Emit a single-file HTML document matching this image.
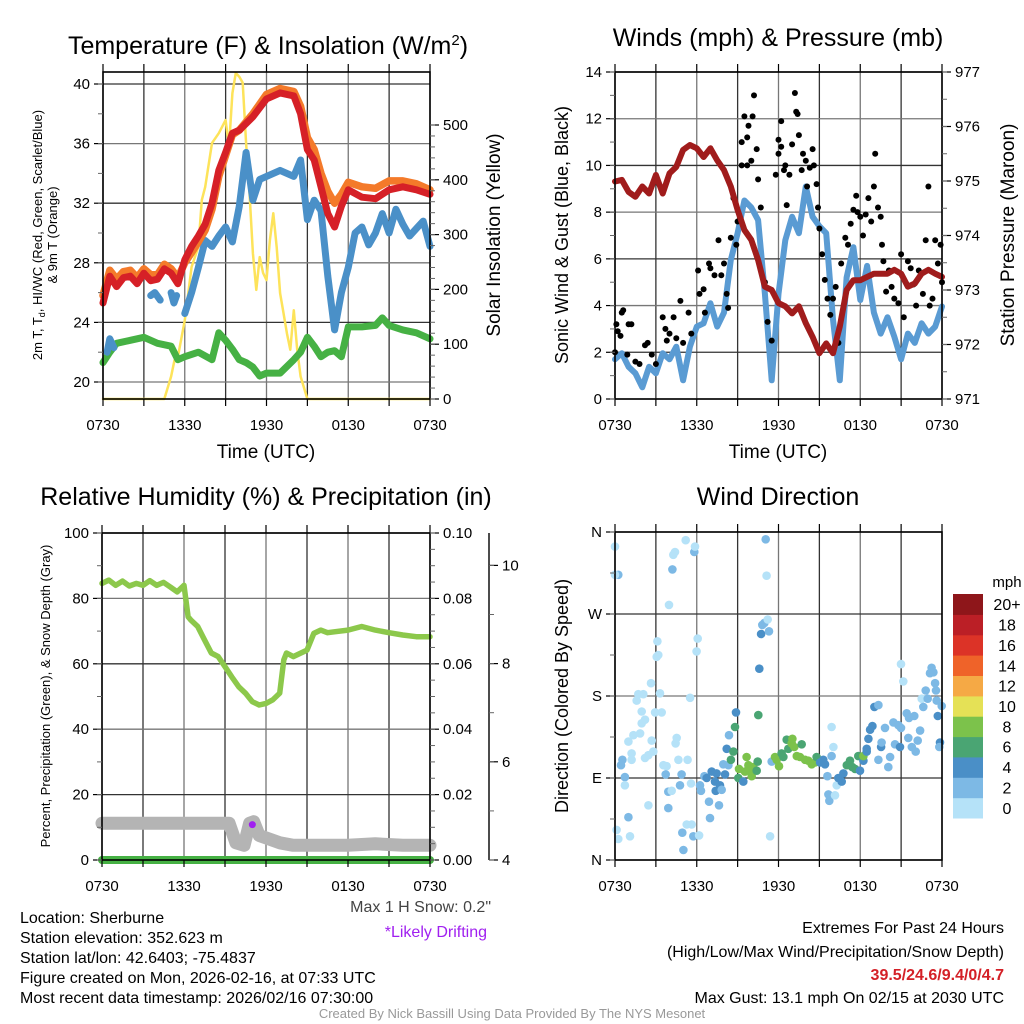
<!DOCTYPE html>
<html><head><meta charset="utf-8"><style>
html,body{margin:0;padding:0;background:#fff}
svg{display:block;font-family:"Liberation Sans",Arial,sans-serif}
</style></head><body>
<svg id="fig" width="1024" height="1024" viewBox="0 0 1024 1024" xmlns="http://www.w3.org/2000/svg">
<g id="grid"></g>
<g id="series"></g>
<g id="axes"></g>
<g id="texts" fill="#000">
<text x="268" y="54" font-size="25" text-anchor="middle">Temperature (F) &amp; Insolation (W/m<tspan dy="-9" font-size="15">2</tspan><tspan dy="9">)</tspan></text>
<text x="778" y="46" font-size="25" text-anchor="middle">Winds (mph) &amp; Pressure (mb)</text>
<text x="266" y="505" font-size="25" text-anchor="middle">Relative Humidity (%) &amp; Precipitation (in)</text>
<text x="778" y="505" font-size="25" text-anchor="middle">Wind Direction</text>
<text x="266" y="458" font-size="19" text-anchor="middle">Time (UTC)</text>
<text x="778" y="458" font-size="19" text-anchor="middle">Time (UTC)</text>
<text transform="translate(42,235) rotate(-90)" font-size="13" text-anchor="middle">2m T, T<tspan dy="3" font-size="9">d</tspan><tspan dy="-3">, HI/WC (Red, Green, Scarlet/Blue)</tspan></text>
<text transform="translate(57,235) rotate(-90)" font-size="13" text-anchor="middle">&amp; 9m T (Orange)</text>
<text transform="translate(500,235) rotate(-90)" font-size="19" text-anchor="middle">Solar Insolation (Yellow)</text>
<text transform="translate(568,235) rotate(-90)" font-size="18" text-anchor="middle">Sonic Wind &amp; Gust (Blue, Black)</text>
<text transform="translate(1014,235) rotate(-90)" font-size="19" text-anchor="middle">Station Pressure (Maroon)</text>
<text transform="translate(50,696) rotate(-90)" font-size="13" text-anchor="middle">Percent, Precipitation (Green), &amp; Snow Depth (Gray)</text>
<text transform="translate(568,696) rotate(-90)" font-size="18" text-anchor="middle">Direction (Colored By Speed)</text>
<text x="491" y="912" font-size="16" text-anchor="end" fill="#444">Max 1 H Snow: 0.2"</text>
<text x="487" y="937" font-size="16" text-anchor="end" fill="#a020f0">*Likely Drifting</text>
<g font-size="16">
<text x="20" y="923">Location: Sherburne</text>
<text x="20" y="943">Station elevation: 352.623 m</text>
<text x="20" y="963">Station lat/lon: 42.6403; -75.4837</text>
<text x="20" y="983">Figure created on Mon, 2026-02-16, at 07:33 UTC</text>
<text x="20" y="1003">Most recent data timestamp: 2026/02/16 07:30:00</text>
</g>
<g font-size="16" text-anchor="end">
<text x="1004" y="933">Extremes For Past 24 Hours</text>
<text x="1004" y="957">(High/Low/Max Wind/Precipitation/Snow Depth)</text>
<text x="1004" y="980" fill="#d42027" font-weight="bold">39.5/24.6/9.4/0/4.7</text>
<text x="1004" y="1003">Max Gust: 13.1 mph On 02/15 at 2030 UTC</text>
</g>
<text x="512" y="1018" font-size="13" text-anchor="middle" fill="#999">Created By Nick Bassill Using Data Provided By The NYS Mesonet</text>
<text x="1007" y="587" font-size="15" text-anchor="middle">mph</text>
</g>
</svg>
<script>
// ---------- Panel 1 data ----------
const tempT = [0,0.5,1,1.5,2,2.5,3,3.5,4,4.5,5,5.5,6,6.5,7,7.5,8,8.5,9,9.5,10,11,12,13,14,14.5,15,15.5,16,16.5,17,17.5,18,19,20,21,22,23,24];
const redT  = [25.3,27.1,26.4,27.0,27.1,26.6,27.3,26.8,26.9,27.6,27.3,26.6,28.2,29.1,29.8,30.6,32.0,34.2,35.4,36.7,36.9,37.8,39.0,39.4,39.2,38.0,35.6,34.9,33.1,31.3,30.4,31.8,32.9,32.4,32.3,32.9,33.1,32.9,32.6];
const orangeT = [25.8,27.5,26.9,27.4,27.5,27.0,27.6,27.2,27.2,27.9,27.6,27.0,28.0,28.7,29.4,30.2,31.6,33.8,35.2,36.6,36.9,38.0,39.3,39.7,39.5,38.5,36.4,35.6,34.0,32.8,32.0,32.6,33.4,33.1,33.0,33.5,33.5,33.3,32.9];
const blueTimes = [0.3,0.5,0.8,1.0,3.5,3.8,4.2,4.3,5.0,5.2,5.4,5.6,6.0,6.5,7,7.5,8,8.5,9,9.5,10,10.5,11,11.5,12,13,14,14.5,15,15.5,16,16.5,17,17.5,18,18.5,19,19.5,20,20.5,21,21.5,22,22.5,23,23.5,24];
const blueVals  = [22.0,22.9,22.3,null,25.8,26.0,25.5,null,26.0,25.3,25.8,null,24.6,26,27.7,29.5,29.1,29.8,30.4,29.4,31.8,35.4,32.2,33.6,33.8,34.2,33.8,34.9,30.9,32.2,31.5,27.1,23.5,26,27.7,30,30.4,29.2,30,31.3,30,31.6,30.6,29.8,30.3,30.8,29.1];
const greenTimes = [0,0.5,1,2,3,4,5,5.5,6,7,8,8.5,9,9.5,10,10.5,11,11.5,12,13,14,14.5,15,15.5,16,16.5,17,17.5,18,19,20,20.5,21,22,23,24];
const greenVals  = [21.3,22,22.6,22.8,23,22.6,22.4,21.5,21.7,22,21.5,23.3,22.8,22.2,21.5,21.3,21,20.4,20.6,20.6,21.5,22,23,22.4,21.7,22,22.1,21.7,23.7,23.7,23.8,24.3,23.8,23.5,23.3,22.9];
const solarTimes = [0,4.5,5,5.25,5.5,6,6.5,7,7.25,7.5,8,8.5,9,9.25,9.5,9.75,10,10.25,10.5,10.75,11,11.25,11.5,11.75,12,12.25,12.5,12.75,13,13.25,13.5,13.75,14,14.25,14.5,15,24];
const solarVals  = [0,0,41,71,77,144,241,278,363,387,467,485,509,460,558,595,588,577,467,376,266,199,259,230,217,290,339,277,193,157,120,90,162,90,41,0,0];
// ---------- Panel 2 data ----------
const windTimes = [0,0.5,1,1.5,2,2.5,3,3.5,4,4.5,5,5.5,6,6.5,7,7.5,8,8.5,9,9.5,10,10.5,11,11.5,12,12.5,13,13.5,14,14.5,15,15.5,16,16.5,17,17.5,18,18.5,19,19.5,20,20.5,21,21.5,22,22.5,23,23.5,24];
const windVals  = [1.7,1.96,1.38,1.1,0.5,1.38,1.1,1.96,1.7,2.24,0.8,2.24,3.1,3.24,4.1,3.1,3.7,5.95,7.1,8.5,8.2,7.66,4.5,0.8,4.5,6.8,7.8,7.1,9.1,7.8,7.4,7.1,3.4,0.8,5.2,6.5,4.24,5.7,3.7,2.8,3.5,2.67,1.7,2.8,2.4,3.24,2.8,3.1,3.96];
const presVals  = [974.99,975.02,974.80,974.71,974.9,974.77,975.11,974.77,975.14,975.26,975.57,975.66,975.6,975.44,975.6,975.38,975.2,974.9,974.47,974.1,973.92,973.55,973.06,973.0,972.76,972.7,972.57,972.7,972.39,972.14,971.84,972.02,971.84,972.33,973.0,973.18,973.18,973.24,973.3,973.3,973.3,973.37,973.3,973.06,973.12,973.3,973.37,973.3,973.24];
const gustT = [0.0,0.1,0.2,0.5,0.6,0.4,1.0,1.2,0.9,1.5,1.8,2.2,2.4,2.7,3.0,3.5,3.7,3.8,4.0,4.3,4.5,4.8,5.0,5.4,5.6,6.1,6.2,6.5,6.6,6.9,7.0,7.3,7.6,7.8,8.0,8.2,8.3,8.5,8.7,8.9,9.0,9.3,9.5,9.3,9.7,9.8,9.7,10.0,10.2,10.1,10.4,10.5,10.7,11.0,11.2,11.5,11.8,12.0,12.0,12.2,12.2,12.4,12.5,12.6,12.8,13.0,13.2,13.3,13.4,13.5,13.7,13.8,14.0,14.1,14.3,14.5,14.6,14.8,14.9,15.0,15.2,15.4,15.6,15.8,16.0,16.2,16.4,16.6,16.9,17.1,17.3,17.5,17.7,17.8,18.0,18.2,18.4,18.6,18.8,19.0,19.1,19.3,19.5,19.6,19.7,19.9,20.1,20.3,20.5,20.8,21.0,21.2,21.5,21.7,21.9,22.1,22.3,22.6,22.8,23.0,23.1,23.3,23.5,23.7,23.9,24.0];
const gustV = [2.0,3.2,2.9,3.7,3.8,2.7,3.2,3.2,1.9,1.6,1.5,2.3,2.4,1.9,1.5,3.5,3.0,2.5,2.8,3.5,2.6,4.2,2.4,3.7,2.8,5.5,4.5,4.7,3.7,5.8,5.6,5.3,6.8,5.3,5.8,4.5,3.9,6.9,8.6,6.6,7.6,10.0,12.1,11.0,11.2,11.7,10.0,10.2,13.0,12.1,10.7,9.4,8.2,5.0,3.3,2.5,9.6,10.5,11.1,11.9,10.8,9.8,10.0,8.3,9.6,10.9,13.1,12.3,12.2,11.3,9.8,10.5,10.2,9.1,9.9,10.7,10.0,9.2,8.2,7.3,6.2,5.1,4.3,3.6,4.3,4.8,2.4,5.8,6.9,6.6,7.5,8.1,8.7,8.0,7.8,7.0,7.9,8.6,7.6,9.1,10.5,8.2,7.8,6.6,5.9,4.6,5.5,4.8,4.3,4.1,6.2,3.5,5.9,5.6,4.9,4.0,5.5,4.5,6.8,9.1,4.0,4.3,6.8,5.8,6.6,5.0];
// ---------- Panel 3 data ----------
const rhTimes = [0,0.5,1,1.5,2,2.5,3,3.5,4,4.5,5,5.5,6,6.3,6.5,7,7.5,8,8.5,9,9.5,10,10.5,11,11.5,12,12.5,13,13.3,13.5,14,15,15.5,16,16.5,17,18,19,20,21,22,23,24];
const rhVals  = [84.6,85.6,84.0,85.3,83.8,84.6,84.0,85.4,84.0,84.9,83.5,82,84,74.4,73.4,71.4,67.3,63.3,62.2,59.1,56,53,51,48.4,47.4,47.9,49,51,61.2,63.3,62.2,64.2,69.3,70.3,69.5,69.8,70.3,71.4,70.3,69.5,68.8,68.3,68.3];
const snowTimes = [0,9.3,9.8,10.4,10.8,11.1,11.5,12,13,14,16,18,20,22,24];
const snowVals  = [4.75,4.75,4.35,4.3,4.75,4.78,4.5,4.45,4.35,4.3,4.3,4.3,4.33,4.3,4.3];
const precipTimes = [0,24];
const precipVals = [0,0];
const driftTimes = [11.0];
const driftVals = [4.72];
// ---------- Panel 4 data ----------
const dirT = [0,0.24,0,0.12,0.24,0.54,0.44,0.73,0.73,0.98,1.10,0.98,1.22,1.22,1.35,1.59,1.71,2.08,1.96,2.20,1.96,1.84,2.20,2.45,2.45,2.64,2.69,2.81,2.94,3.06,3.18,3.11,3.30,3.43,3.55,3.79,3.72,3.91,3.91,3.96,4.21,4.28,4.40,4.16,4.53,4.45,4.65,4.77,4.89,4.94,5.02,5.19,5.33,5.26,5.63,5.75,6.17,5.82,5.87,5.51,5.58,5.99,6.07,6.24,6.31,6.56,6.73,6.97,6.90,7.10,7.34,7.39,7.46,7.63,7.71,7.83,8.07,7.95,8.20,8.32,8.37,8.51,8.69,8.81,8.88,9.05,9.10,9.42,9.66,9.54,9.79,9.91,10.03,10.15,10.40,10.47,10.52,10.59,10.72,10.81,10.96,11.21,11.30,11.06,11.13,11.38,11.50,11.74,11.87,12.04,12.23,12.36,12.60,12.72,12.97,13.02,13.16,13.34,13.58,13.70,13.95,14.19,14.44,14.68,14.80,15.05,15.29,15.41,15.59,15.66,15.73,15.90,15.90,16.03,16.15,16.27,16.39,16.64,16.76,17.01,17.25,17.42,17.62,17.86,17.98,18.23,18.23,18.47,18.47,18.60,18.72,18.89,19.04,19.33,19.33,19.53,19.57,19.82,20.06,20.19,20.43,20.55,20.80,20.92,20.99,20.99,21.16,21.41,21.53,21.58,21.78,21.97,22.07,22.22,22.39,22.51,22.63,22.80,22.95,23.12,23.24,23.49,23.37,23.61,23.56,23.69,23.98,23.85,23.80];
const dirD = [344,313,313,33,23,110,104,91,82,47,26,130,117,110,137,175,182,182,163,154,150,139,112,115,60,194,131,119,162,223,225,240,183,162,104,103,94,75,57,280,319,335,338,76,134,128,110,82,94,30,11,351,110,39,39,26,27,338,344,178,84,229,243,82,76,92,90,46,64,97,86,76,95,60,82,77,94,105,122,104,137,110,119,146,162,90,100,86,113,97,104,98,92,102,98,108,159,210,248,258,260,264,251,352,312,26,108,113,110,103,117,113,132,122,128,133,124,114,113,127,110,109,105,107,113,107,110,105,92,72,65,114,146,124,71,82,90,86,95,104,109,102,100,114,98,109,114,122,119,133,143,147,168,170,110,124,129,145,102,113,151,127,148,124,145,215,196,161,134,156,124,158,119,131,142,177,168,186,177,205,211,194,206,175,186,158,169,129,124,124];
const dirS = [1,3,1,1,1,3,3,3,1,3,1,1,1,1,1,1,1,1,1,1,1,1,1,1,1,1,1,1,1,1,1,1,1,1,1,1,3,3,3,1,3,1,1,1,1,1,1,3,3,3,3,1,1,1,1,3,1,3,1,1,1,1,1,3,3,3,5,3,3,5,5,5,5,3,5,3,5,3,5,3,3,7,7,7,5,7,9,5,9,9,9,9,9,9,7,7,7,5,5,3,3,1,3,3,1,1,3,9,9,9,7,7,7,7,9,9,9,9,9,7,9,9,9,9,7,5,5,5,3,3,3,3,1,1,1,1,5,5,5,7,7,7,7,7,5,5,9,5,5,5,5,5,5,3,3,5,3,3,3,3,3,3,3,5,3,1,1,3,3,3,3,3,3,3,3,1,3,3,3,3,3,3,3,3,3,5,3,5,3,3];
const cbLabels = ["0","2","4","6","8","10","12","14","16","18","20+"];
const cbColors = ["#b5e2f8","#7db9e5","#4a8fc7","#4aa573","#7cc24b","#e5e156","#f5a945","#ef6329","#dc3327","#bb1f26","#8e161a"];
const xTickLabels = ["0730","1330","1930","0130","0730"];
const tempTicks = [20,24,28,32,36,40];
const solarTicks = [0,100,200,300,400,500];
const windTicks = [0,2,4,6,8,10,12,14];
const presTicks = [971,972,973,974,975,976,977];
const rhTicks = [0,20,40,60,80,100];
const precipTicks = [0,0.02,0.04,0.06,0.08,0.10];
const snowTicks = [4,6,8,10];
const dirTicks = [0,90,180,270,360];
const dirLabels = ["N","E","S","W","N"];

// ---------- scales ----------
const NS="http://www.w3.org/2000/svg";
const P1={x0:103,x1:430,y0:72,y1:399}, P2={x0:615,x1:942,y0:72,y1:399}, P3={x0:102,x1:430,y0:533,y1:860}, P4={x0:615,x1:942,y0:532,y1:860};
const xs = P => t => P.x0 + t*(P.x1-P.x0)/24;
const x1=xs(P1), x2=xs(P2), x3=xs(P3), x4=xs(P4);
const yT = v => 84 + (40-v)*14.9;
const yS = v => 399 - v*0.548;
const yW = v => 399 - v*327/14;
const yP = p => 399 - (p-971)*54.5;
const yR = v => 860 - v*3.27;
const yPr = v => 860 - v*3270;
const ySd = v => 860 - (v-4)*49.1;
const yD = d => 860 - d*328/360;
const gGrid=document.getElementById('grid'), gSer=document.getElementById('series'), gAx=document.getElementById('axes');
function mk(tag, attrs, parent){const e=document.createElementNS(NS,tag);for(const k in attrs)e.setAttribute(k,attrs[k]);parent.appendChild(e);return e;}
function pathD(ts, vs, xf, yf){let d='',pen=false;for(let i=0;i<ts.length;i++){if(vs[i]===null){pen=false;continue;}d+=(pen?'L':'M')+xf(ts[i]).toFixed(1)+','+yf(vs[i]).toFixed(1);pen=true;}return d;}
function line(ts,vs,xf,yf,color,w,name){
  const e=mk('path',{d:pathD(ts,vs,xf,yf),fill:'none',stroke:color,'stroke-width':w,'stroke-linejoin':'round','stroke-linecap':'round'},gSer);
  
  
  return e;
}
function txt(x,y,s,anchor,size,parent){const e=mk('text',{x:x,y:y,'text-anchor':anchor,'font-size':size},parent||gAx);e.textContent=s;return e;}

// ---------- grids / axes ----------
function frame(P, name, gridYs){
  for(let k=0;k<=8;k++){const x=P.x0+k*(P.x1-P.x0)/8;
    const g=mk('line',{x1:x,x2:x,y1:P.y0,y2:P.y1,stroke:(k%2?'#333':'#777'),'stroke-width':1.3},gGrid);
    
    
    mk('line',{x1:x,x2:x,y1:P.y1,y2:P.y1+7,stroke:'#000','stroke-width':1.2},gAx);
    mk('line',{x1:x,x2:x,y1:P.y0,y2:P.y0-8,stroke:'#000','stroke-width':1.2},gAx);
  }
  gridYs.forEach((y,i)=>{const g=mk('line',{x1:P.x0,x2:P.x1,y1:y,y2:y,stroke:(i%2?'#333':'#777'),'stroke-width':1.3},gGrid);
    
    });
  const b=mk('rect',{x:P.x0,y:P.y0,width:P.x1-P.x0,height:P.y1-P.y0,fill:'none',stroke:'#000','stroke-width':1.6},gAx);
  
  
  xTickLabels.forEach((s,i)=>{const e=txt(P.x0+i*(P.x1-P.x0)/4,P.y1+31,s,'middle',15);
    
    });
}
function yAxis(x, ticks, yf, labels, side, size, name, minorStep){
  ticks.forEach((v,i)=>{const y=yf(v);
    mk('line',{x1:x,x2:x+(side<0?-9:9),y1:y,y2:y,stroke:'#000','stroke-width':1.2},gAx);
    const e=txt(x+(side<0?-13:13),y+5,labels[i],side<0?'end':'start',size);
    
    });
  if(minorStep){for(let v=ticks[0];v<=ticks[ticks.length-1]+1e-9;v+=minorStep){const y=yf(v);
    mk('line',{x1:x,x2:x+(side<0?-5:5),y1:y,y2:y,stroke:'#666','stroke-width':1},gAx);}}
}
frame(P1,'temperature-plot-area',tempTicks.map(yT));
yAxis(P1.x0,tempTicks,yT,tempTicks.map(String),-1,15,'temp-y-tick-label',2);
yAxis(P1.x1,solarTicks,yS,solarTicks.map(String),1,15,'solar-y-tick-label',20);
frame(P2,'wind-plot-area',windTicks.map(yW));
yAxis(P2.x0,windTicks,yW,windTicks.map(String),-1,15,'wind-y-tick-label',1);
yAxis(P2.x1,presTicks,yP,presTicks.map(String),1,15,'pressure-y-tick-label',0.5);
frame(P3,'humidity-plot-area',rhTicks.map(yR));
yAxis(P3.x0,rhTicks,yR,rhTicks.map(String),-1,15,'rh-y-tick-label',10);
yAxis(P3.x1,precipTicks,yPr,precipTicks.map(v=>v.toFixed(2)),1,15,'precip-y-tick-label',0.005);
const sa=mk('line',{x1:489,x2:489,y1:533,y2:860,stroke:'#000','stroke-width':1.4},gAx);


yAxis(489,snowTicks,ySd,snowTicks.map(String),1,15,'snow-y-tick-label',1);
frame(P4,'direction-plot-area',dirTicks.map(yD));
yAxis(P4.x0,dirTicks,yD,dirLabels,-1,15,'direction-y-tick-label',45);
// colorbar
cbColors.forEach((c,i)=>{const h=224/11, y=818-(i+1)*h;
  const r=mk('rect',{x:953,y:y.toFixed(1),width:30,height:(h+0.5).toFixed(1),fill:c},gAx);
  
  
  const t=txt(1007,y+h/2+6,cbLabels[i],'middle',16);
  
  });

// ---------- series ----------
line(solarTimes,solarVals,x1,yS,'#fde35a',2.5,'solar-insolation-line');
line(greenTimes,greenVals,x1,yT,'#46b144',7,'dewpoint-line');
line(blueTimes,blueVals,x1,yT,'#4a90c8',7,'heat-index-windchill-line');
line(tempT,orangeT,x1,yT,'#f47a2a',7.5,'temp-9m-line');
line(tempT,redT,x1,yT,'#d62027',7,'temp-2m-line');

line(windTimes,windVals,x2,yW,'#5a9bd3',6,'sonic-wind-line');
gustT.forEach((t,i)=>{const c=mk('circle',{cx:x2(t).toFixed(1),cy:yW(gustV[i]).toFixed(1),r:3,fill:'#000'},gSer);
  
  });
line(windTimes,presVals,x2,yP,'#a01c1c',6,'pressure-line');

line(snowTimes,snowVals,x3,ySd,'#b4b4b4',13,'snow-depth-line');
line(precipTimes,precipVals,x3,yPr,'#46b144',8,'precipitation-line');
line(rhTimes,rhVals,x3,yR,'#8cc84b',5.5,'relative-humidity-line');
driftTimes.forEach((t,i)=>{const c=mk('circle',{cx:x3(t),cy:ySd(driftVals[i]),r:3.5,fill:'#a020f0'},gSer);
  
  });

dirT.forEach((t,i)=>{const bin=Math.min(10,Math.floor(dirS[i]/2));
  const c=mk('circle',{cx:x4(t).toFixed(1),cy:yD(dirD[i]).toFixed(1),r:4.3,fill:cbColors[bin]},gSer);
  
  });
</script>
</body></html>
